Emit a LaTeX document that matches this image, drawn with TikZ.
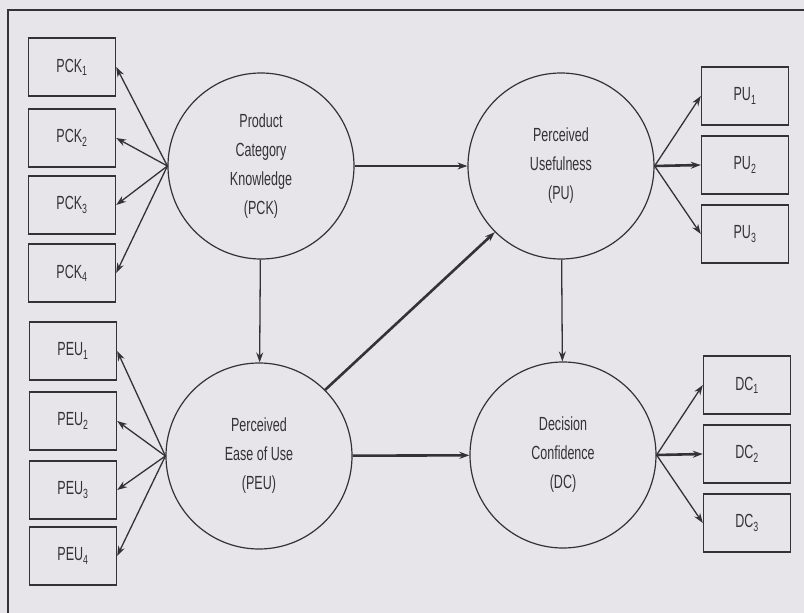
\documentclass[tikz,border=0pt]{standalone}
\usepackage{fontspec}
\setsansfont[FakeStretch=0.66]{Liberation Sans}
\usetikzlibrary{arrows.meta, positioning}
\definecolor{ink}{HTML}{343236}
\definecolor{paper}{HTML}{E7E5E9}

\begin{document}
\begin{tikzpicture}[x=1pt, y=-1pt, font=\sffamily\fontsize{19}{29}\selectfont, text=ink,
    latent/.style={draw=ink, circle, minimum size=186pt, inner sep=0pt, align=center, line width=1.2pt},
    item/.style={draw=ink, minimum width=87pt, minimum height=58pt, inner sep=0pt, line width=1.4pt},
    load/.style={draw=ink, line width=1.3pt, -{Stealth[length=10pt, width=7pt]}},
    heavy/.style={load, line width=2.6pt}]
  \clip (0,0) rectangle (804,613);
  \fill[paper] (0,0) rectangle (804,613);
  \draw[ink, line width=1.4pt] (8,10) rectangle (830,640);

  % latent constructs
  \node[latent] (pck) at (261,166) {Product\\Category\\Knowledge\\(PCK)};
  \node[latent] (peu) at (259,456) {Perceived\\Ease of Use\\(PEU)};
  \node[latent] (pu) at (561,166) {Perceived\\Usefulness\\(PU)};
  \node[latent] (dc) at (563,455) {Decision\\Confidence\\(DC)};

  % indicators
  \foreach \y [count = \i] in {67, 138, 205, 273}{
    \node[item] (pck\i) at (72,\y) {PCK\textsubscript{\i}};
    \draw[load] (pck.west) -- (pck\i.east);
  }
  \foreach \y [count = \i] in {351, 421, 490, 556}{
    \node[item] (peu\i) at (73,\y) {PEU\textsubscript{\i}};
    \draw[load] (peu.west) -- (peu\i.east);
  }
  \foreach \y [count = \i] in {96, 165, 234}{
    \node[item] (pu\i) at (745,\y) {PU\textsubscript{\i}};
  }
  \foreach \y [count = \i] in {385, 454, 523}{
    \node[item] (dc\i) at (747,\y) {DC\textsubscript{\i}};
  }
  \draw[load] (pu.east) -- (pu1.west);
  \draw[heavy] (pu.east) -- (pu2.west);
  \draw[load] (pu.east) -- (pu3.west);
  \draw[load] (dc.east) -- (dc1.west);
  \draw[heavy] (dc.east) -- (dc2.west);
  \draw[load] (dc.east) -- (dc3.west);

  % structural paths
  \draw[load] (pck) -- (pu);
  \draw[load] (pck) -- (peu);
  \draw[load] (pu) -- (dc);
  \draw[heavy] (peu.north east) -- (pu.south west);
  \draw[heavy] (peu) -- (dc);
\end{tikzpicture}
\end{document}
